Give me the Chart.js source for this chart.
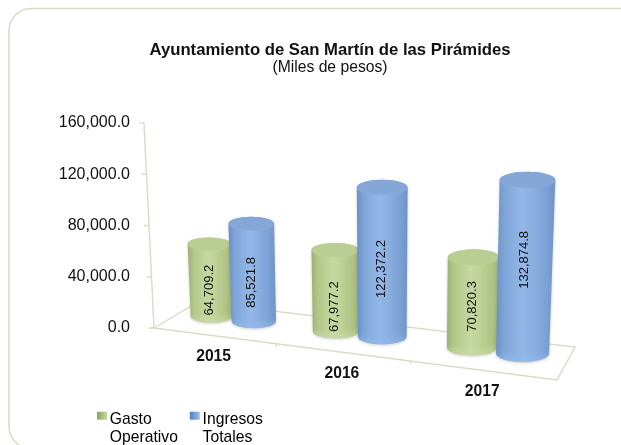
<!DOCTYPE html>
<html><head><meta charset="utf-8">
<style>html,body{margin:0;padding:0;background:#fff}canvas{display:block}</style>
<script src="https://cdn.jsdelivr.net/npm/chart.js@4/dist/chart.umd.min.js"></script>
</head><body><div style="width:621px;height:445px"><canvas id="c" width="621" height="445"></canvas></div>
<script>
const categories = ["2015", "2016", "2017"];
const gastoOperativo = [64709.2, 67977.2, 70820.3];
const ingresosTotales = [85521.8, 122372.2, 132874.8];
const seriesNames = ["Gasto Operativo", "Ingresos Totales"];
const legendLines = [["Gasto", "Operativo"], ["Ingresos", "Totales"]];
const chartTitle = "Ayuntamiento de San Martín de las Pirámides";
const chartSubtitle = "(Miles de pesos)";
const axisTicks = [0, 40000, 80000, 120000, 160000];
const FONT = "'Liberation Sans', Arial, sans-serif";
const INK = "#111";
const GRID = "#dadac8";
const floor = { fl:[154,328], fr:[557,380], br:[575,347], bl:[198,302] };
const labelNudge = [[10,16,4],[10,7,-7]];
const persp = 0.135;
const u = (chart,x)=> (x-chart.chartArea.left)/(chart.chartArea.right-chart.chartArea.left);
const fu = t => t*(1-persp*(1-t));
const dfu = t => 1-persp+2*persp*t;
const frontX = t => floor.fl[0]+(floor.fr[0]-floor.fl[0])*fu(t);
const frontY = sx => floor.fl[1]+(floor.fr[1]-floor.fl[1])*(sx-floor.fl[0])/(floor.fr[0]-floor.fl[0]);
const palette = [
 {stops:["#9cb176","#b2c788","#c6d8a2","#bfd196","#aec384","#9db278"],top:"#bacd92",rim:"#cbdcaa",bot:"#c9daa6",mul:1.0},
 {stops:["#6a90c4","#7fa5d8","#92b7e8","#8aaee0","#7aa0d4","#6d93c8"],top:"#84a7d8",rim:"#9abce8",bot:"#93baee",mul:1.02}
];
function cylinder(ctx,chart,el,pal,label,nudge){
  const s=el.getProps(['x','y','base','width'],true);
  const t=u(chart,s.x);
  const sx=360+(frontX(t)+17-360)*0.985;
  const baseY=316+0.1206*(sx-210);
  const k=0.87+0.00048*(sx-210);
  const h=(s.base-s.y)*k;
  const w=s.width*dfu(t)*pal.mul*(floor.fr[0]-floor.fl[0])/(chart.chartArea.right-chart.chartArea.left);
  const ry=w*0.155;
  const lean=(sx-383)*h*0.0002;
  const topW=w*(1+0.05*h/175);
  const topY=baseY-h, topX=sx+lean;
  const L=sx-w/2,R=sx+w/2,TL=topX-topW/2,TR=topX+topW/2;
  ctx.save();
  ctx.shadowColor="rgba(90,90,90,.3)";ctx.shadowBlur=3;ctx.shadowOffsetY=1;
  const g=ctx.createLinearGradient(Math.min(L,TL),0,Math.max(R,TR),0);
  [0,.14,.45,.62,.86,1].forEach((p,i)=>g.addColorStop(p,pal.stops[i]));
  ctx.fillStyle=g;
  ctx.beginPath();
  ctx.moveTo(TL,topY);
  ctx.lineTo(L,baseY);
  ctx.ellipse(sx,baseY,w/2,ry,0,Math.PI,0,true);
  ctx.lineTo(TR,topY);
  ctx.ellipse(topX,topY,topW/2,ry,0,0,Math.PI,true);
  ctx.closePath();ctx.fill();
  ctx.restore();
  // lower rim, fading in softly
  ctx.save();
  ctx.beginPath();
  ctx.ellipse(sx,baseY,w/2,ry,0,Math.PI,0,true);
  ctx.ellipse(sx,baseY-ry*1.1,w/2,ry,0,0,Math.PI,false);
  ctx.closePath();
  const gb=ctx.createLinearGradient(0,baseY-ry*.4,0,baseY+ry);
  gb.addColorStop(0,pal.bot+"00");gb.addColorStop(1,pal.bot+"b0");
  ctx.fillStyle=gb;ctx.fill();
  ctx.restore();
  // cap with a soft light band under its front rim
  ctx.save();
  ctx.beginPath();
  ctx.ellipse(topX,topY,topW/2,ry,0,Math.PI,0,true);
  ctx.ellipse(topX,topY+ry*.45,topW/2,ry,0,0,Math.PI,true);
  ctx.closePath();
  ctx.fillStyle=pal.rim;ctx.globalAlpha=.8;ctx.fill();
  ctx.restore();
  ctx.beginPath();
  ctx.ellipse(topX,topY,topW/2-.5,ry,0,0,Math.PI*2);
  ctx.fillStyle=pal.top;ctx.fill();
  // value label, rotated
  ctx.save();
  ctx.translate(sx+lean/2-1,baseY-h/2+nudge);
  ctx.rotate(-Math.PI/2);
  ctx.font="13px "+FONT;ctx.fillStyle=INK;ctx.textAlign="center";ctx.textBaseline="middle";
  ctx.fillText(label,0,0);
  ctx.restore();
}
const fmt = v => v.toLocaleString("en-US",{minimumFractionDigits:1,maximumFractionDigits:1});
const scene = {
  id:"scene",
  afterLayout(chart){
    const lg=chart.legend;
    lg.left=131.3; lg.top=443;
    lg.draw=function(){ this._draw(); };
  },
  beforeDraw(chart){
    const c=chart.ctx;
    c.save();c.fillStyle="#fff";c.fillRect(0,0,621,445);
    c.strokeStyle=GRID;c.lineWidth=1.5;
    c.beginPath();c.roundRect(9,8.5,700,440,22);c.stroke();c.restore();
  },
  beforeDatasetsDraw(chart){
    const c=chart.ctx, y=chart.scales.y, xs=chart.scales.x;
    c.save();c.strokeStyle=GRID;c.lineWidth=1.4;
    // sloped value axis with its ticks, placed by the value scale
    const yb=y.getPixelForValue(0), yt=y.getPixelForValue(160000);
    const ax=p=>floor.fl[0]-10*(yb-p)/(yb-yt);
    c.beginPath();c.moveTo(ax(yt),yt);c.lineTo(ax(yb),yb);
    y.ticks.forEach(tk=>{const p=y.getPixelForValue(tk.value);c.moveTo(ax(p),p);c.lineTo(ax(p)-5,p);});
    // floor
    const f=floor;
    c.moveTo(...f.fl);c.lineTo(...f.fr);c.lineTo(...f.br);c.lineTo(...f.bl);c.lineTo(...f.fl);
    [1/3,2/3].forEach(t=>{const px=frontX(t);c.moveTo(px,frontY(px));c.lineTo(px,frontY(px)+3);});
    c.stroke();c.restore();
    // category labels on the tilted front edge
    c.save();c.font="bold 15.7px "+FONT;c.fillStyle=INK;c.textAlign="center";c.textBaseline="middle";
    categories.forEach((lab,i)=>{
      const px=frontX(u(chart,xs.getPixelForValue(i)));
      c.fillText(lab,px,frontY(px)+21);
    });
    c.restore();
    // cylinders: green first, blue in front
    [0,1].forEach(d=>{
      chart.getDatasetMeta(d).data.forEach((el,i)=>{
        cylinder(c,chart,el,palette[d],fmt(chart.data.datasets[d].data[i]),labelNudge[d][i]);
      });
    });
    // legend markers
    chart.legend.legendHitBoxes.forEach((b,i)=>{
      const m=i?["#4f7fc0","#9cc0ec"]:["#8aa45f","#c6d89f"];
      const x=b.left-3,top=b.top;
      const g=c.createLinearGradient(x,0,x+10,0);g.addColorStop(0,m[0]);g.addColorStop(1,m[1]);
      c.fillStyle=g;c.fillRect(x,top,10,8);
    });
    return false;
  }
};
new Chart(document.getElementById("c"),{
  type:"bar",
  data:{labels:categories,datasets:[
    {label:seriesNames[0],data:gastoOperativo,backgroundColor:"#b5ca8c"},
    {label:seriesNames[1],data:ingresosTotales,backgroundColor:"#7fa6dc"}
  ]},
  plugins:[scene],
  options:{
    responsive:false,animation:false,
    categoryPercentage:.7,barPercentage:1,
    layout:{padding:{left:39,right:0,top:0,bottom:0}},
    scales:{
      x:{grid:{display:false},border:{display:false},ticks:{display:false},afterFit(s){s.height=117;}},
      y:{min:0,max:160000,afterFit(s){s.width=115;},
         grid:{display:false},border:{display:false},
         afterBuildTicks(s){s.ticks=axisTicks.map(v=>({value:v}));},
         ticks:{color:INK,font:{family:FONT,size:16},padding:16,callback:v=>fmt(v)}}
    },
    plugins:{
      title:{display:true,text:chartTitle,color:INK,font:{family:FONT,size:16.7,weight:"bold"},padding:{top:40,bottom:-2}},
      subtitle:{display:true,text:chartSubtitle,color:INK,font:{family:FONT,size:15.7,weight:"normal"},padding:{top:0,bottom:46}},
      legend:{position:"bottom",align:"start",
        labels:{boxWidth:2,boxHeight:2,padding:-31.3,color:INK,font:{family:FONT,size:15.7,lineHeight:1.15},
          generateLabels:ch=>legendLines.map((t,i)=>({text:t,fillStyle:"rgba(0,0,0,0)",strokeStyle:"rgba(0,0,0,0)",lineWidth:0,datasetIndex:i}))}},
      tooltip:{enabled:false}
    }
  }
});
</script></body></html>
